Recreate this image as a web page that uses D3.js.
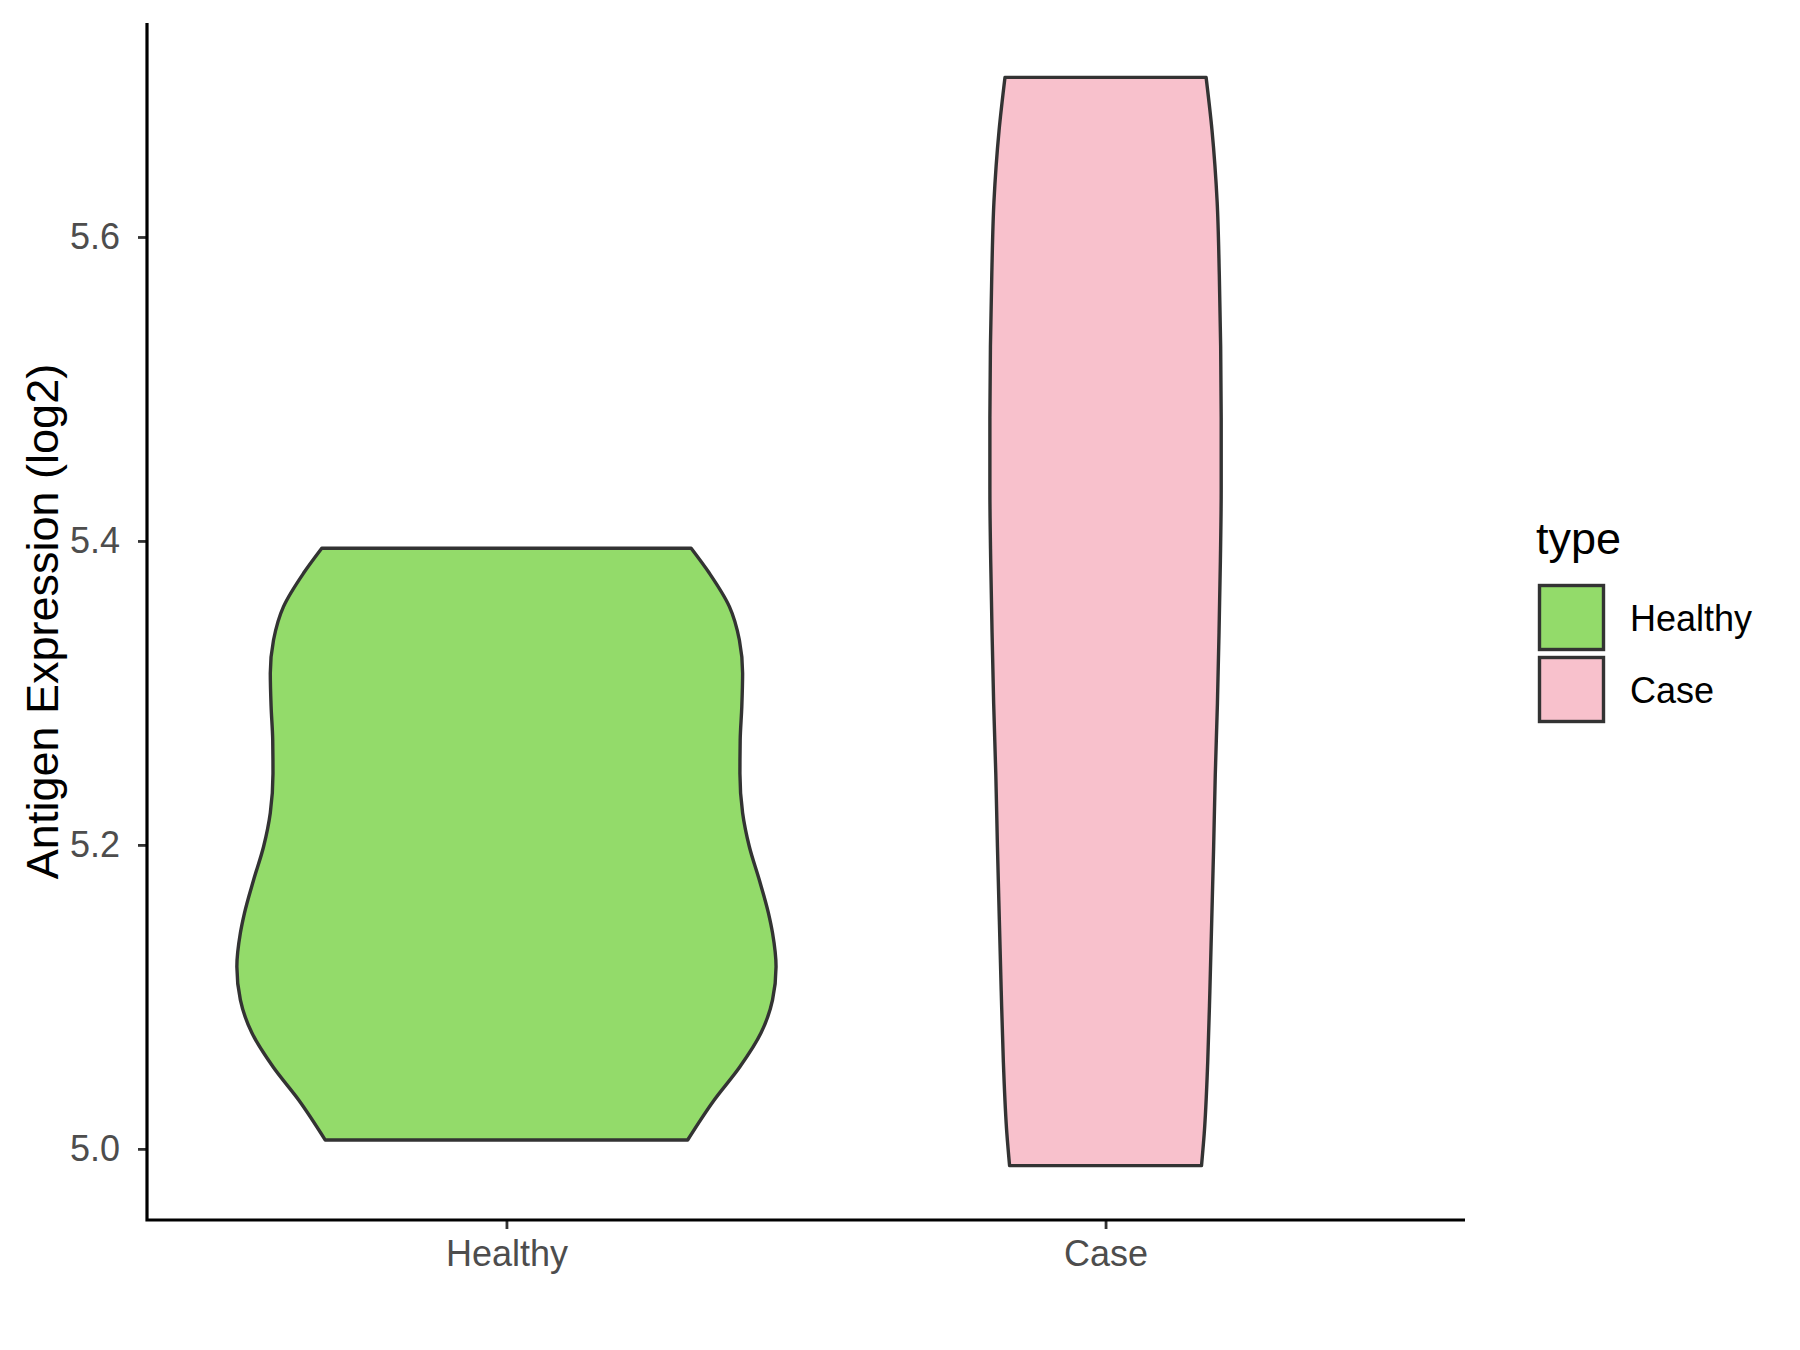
<!DOCTYPE html>
<html>
<head>
<meta charset="utf-8">
<script src="https://cdn.jsdelivr.net/npm/d3@7"></script>
<style>
  body { margin: 0; background: #fff; }
  text { font-family: "Liberation Sans", Arial, sans-serif; }
</style>
</head>
<body>
<div id="chart"></div>
<script>
const _WIDTH = 1800
const _HEIGHT = 1350
const _PANEL = { left: 147, right: 1465, top: 23, bottom: 1220 }

// Data
// ===================================
const categories = ["Healthy", "Case"]
const fills = ["#93DB6A", "#F8C1CC"]
const yTicks = [5.0, 5.2, 5.4, 5.6]

// y value and scaled density (1 = widest part of either violin)
const healthyValues = [5.3952, 5.3787, 5.3568, 5.3348, 5.3129, 5.2910, 5.2690, 5.2470, 5.2210, 5.1988, 5.1769, 5.1550, 5.1420, 5.1199, 5.0980, 5.0762, 5.0540, 5.0320, 5.0058]
const healthyDensity = [0.685, 0.753, 0.827, 0.864, 0.876, 0.873, 0.867, 0.866, 0.876, 0.901, 0.938, 0.972, 0.987, 1.000, 0.987, 0.944, 0.866, 0.770, 0.672]

const caseValues = [5.705, 5.670, 5.623, 5.575, 5.528, 5.481, 5.434, 5.387, 5.340, 5.293, 5.246, 5.199, 5.151, 5.104, 5.057, 5.010, 4.989]
const caseDensity = [0.373, 0.395, 0.414, 0.422, 0.427, 0.429, 0.429, 0.426, 0.421, 0.415, 0.407, 0.401, 0.394, 0.387, 0.379, 0.366, 0.356]

const groups = [
    { key: "Healthy", values: healthyValues, density: healthyDensity },
    { key: "Case", values: caseValues, density: caseDensity },
]

//  Scales
// ===================================
const allValues = healthyValues.concat(caseValues)
const [vMin, vMax] = d3.extent(allValues)
const pad = (vMax - vMin) * 0.05

const yScale = d3.scaleLinear()
    .domain([vMin - pad, vMax + pad])
    .range([_PANEL.bottom, _PANEL.top])

const xScale = d3.scalePoint()
    .domain(categories)
    .range([_PANEL.left, _PANEL.right])
    .padding(0.6)

const wScale = d3.scaleLinear()
    .domain([0, 1])
    .range([0, xScale.step() * 0.45])

const colour = d3.scaleOrdinal().domain(categories).range(fills)

const svg = d3.select("#chart")
    .append("svg")
    .attr("width", _WIDTH)
    .attr("height", _HEIGHT)

// Violins
// ===================================
groups.forEach(g => {
    const cx = xScale(g.key)
    const pts = g.values.map((v, i) => ({ v: v, d: g.density[i] }))
    const area = d3.area()
        .y(d => yScale(d.v))
        .x0(d => cx - wScale(d.d))
        .x1(d => cx + wScale(d.d))
        .curve(d3.curveMonotoneY)
    svg.append("path")
        .datum(pts)
        .attr("d", area)
        .attr("fill", colour(g.key))
        .attr("stroke", "#333333")
        .attr("stroke-width", 3.4)
        .attr("stroke-linejoin", "round")
})

// Axes
// ===================================
const yAxis = svg.append("g")
    .attr("transform", `translate(${_PANEL.left},0)`)
    .call(d3.axisLeft(yScale).tickValues(yTicks).tickFormat(d3.format(".1f")).tickSize(9).tickPadding(18).tickSizeOuter(0))
yAxis.select(".domain").remove()
yAxis.selectAll(".tick line").attr("stroke", "#333333").attr("stroke-width", 2.8)
yAxis.selectAll(".tick text").attr("fill", "#4D4D4D").attr("font-size", 36)
    .style("font-family", "'Liberation Sans', Arial, sans-serif")

const xAxis = svg.append("g")
    .attr("transform", `translate(0,${_PANEL.bottom})`)
    .call(d3.axisBottom(xScale).tickSize(9).tickPadding(11).tickSizeOuter(0))
xAxis.select(".domain").remove()
xAxis.selectAll(".tick line").attr("stroke", "#333333").attr("stroke-width", 2.8)
xAxis.selectAll(".tick text").attr("fill", "#4D4D4D").attr("font-size", 36)
    .style("font-family", "'Liberation Sans', Arial, sans-serif")

svg.append("path")
    .attr("d", `M${_PANEL.left},${_PANEL.top}V${_PANEL.bottom}H${_PANEL.right}`)
    .attr("fill", "none")
    .attr("stroke", "#000")
    .attr("stroke-width", 3.2)

// Axis title
svg.append("text")
    .attr("transform", `translate(58,${(_PANEL.top + _PANEL.bottom) / 2}) rotate(-90)`)
    .attr("text-anchor", "middle")
    .attr("font-size", 45)
    .attr("fill", "#000")
    .text("Antigen Expression (log2)")

// Legend
// ===================================
const legend = svg.append("g").attr("transform", "translate(1538,0)")
legend.append("text")
    .attr("x", -2)
    .attr("y", 554)
    .attr("font-size", 45)
    .attr("fill", "#000")
    .text("type")

categories.forEach((c, i) => {
    const top = 584 + i * 72
    legend.append("rect")
        .attr("x", 1.5)
        .attr("y", top + 1.5)
        .attr("width", 64)
        .attr("height", 64)
        .attr("fill", colour(c))
        .attr("stroke", "#333333")
        .attr("stroke-width", 3.4)
    legend.append("text")
        .attr("x", 92)
        .attr("y", top + 34)
        .attr("dy", "0.35em")
        .attr("font-size", 36)
        .attr("fill", "#000")
        .text(c)
})
</script>
</body>
</html>
